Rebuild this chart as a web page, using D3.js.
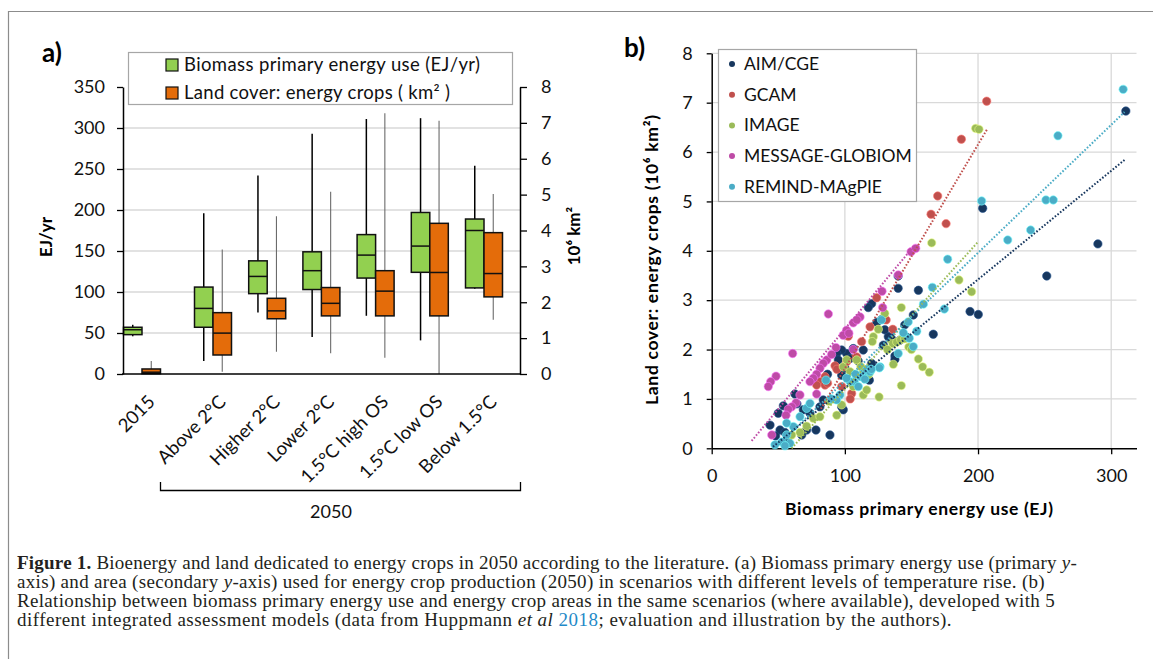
<!DOCTYPE html>
<html>
<head>
<meta charset="utf-8">
<script src="https://cdn.jsdelivr.net/npm/d3@7"></script>
<style>
  body { margin: 0; background: #fff; }
  svg { display: block; font-family: Lato, "Open Sans", sans-serif; }
</style>
</head>
<body>
<svg id="fig" width="1153" height="659"></svg>
<script>
// ---- data: panel a (box plots) ----
const scenarios = ["2015", "Above 2°C", "Higher 2°C", "Lower 2°C", "1.5°C high OS", "1.5°C low OS", "Below 1.5°C"];
// [min, q1, median, q3, max]  EJ/yr
const biomassStats = [
  [46, 48, 54, 57, 60],
  [16, 57, 80, 106, 196],
  [75, 98, 119, 138, 242],
  [45, 103, 126, 149, 293],
  [71, 117, 145, 170, 311],
  [41, 124, 156, 197, 312],
  [104, 105, 175, 189, 254]
];
// [min, q1, median, q3, max]  10^6 km2
const landStats = [
  [0, 0.01, 0.05, 0.14, 0.36],
  [0.06, 0.53, 1.14, 1.71, 3.47],
  [0.62, 1.54, 1.76, 2.11, 4.40],
  [0.58, 1.62, 1.97, 2.41, 5.08],
  [0.45, 1.62, 2.31, 2.88, 7.27],
  [0, 1.62, 2.83, 4.20, 7.06],
  [1.51, 2.15, 2.80, 3.94, 5.02]
];
const leftTicks = [0, 50, 100, 150, 200, 250, 300, 350];
const rightTicks = [0, 1, 2, 3, 4, 5, 6, 7, 8];

// ---- data: panel b (scatter) ----
const models = ["AIM/CGE", "GCAM", "IMAGE", "MESSAGE-GLOBIOM", "REMIND-MAgPIE"];
const modelColors = ["#17375E", "#C0504D", "#9BBB59", "#BE4BA6", "#4BACC6"];
const aimPts = [[311,6.83],[203.5,4.86],[290,4.14],[251.6,3.49],[155.2,3.2],[140,3.24],[140,3.49],[194,2.77],[200.2,2.71],
  [151.4,2.70],[166.4,2.31],[133.9,2.26],[128.9,2.09],[137.6,1.87],[137.6,1.80],[120.1,2.93],[117.6,2.85],[127.7,2.61],
  [132.6,2.26],[135.2,2.21],[141.4,2.19],[146.4,2.25],[113.8,1.99],[106.3,2.02],[101.3,1.92],[97.6,1.99],[93.9,1.92],
  [95.1,1.79],[97.6,1.48],[100.1,1.62],[116.4,1.59],[120.1,1.72],[118.4,1.38],[110,1.77],[103.9,1.82],[98.8,0.78],
  [97.6,0.84],[88.8,0.27],[78.3,0.37],[62.5,1.10],[53.8,0.86],[50,0.71],[43.8,0.47],[51.3,0.37],[71.3,0.37],[67.6,0.27],
  [68.8,0.78],[73.8,0.71],[83.8,0.98],[81.3,0.84],[48,0.25],[55,0.32],[57,0.2],[124,2.55],[130,2.4],[145,2.5],[87,1.5],[64,0.9]];
const gcamPts = [[206.5,7.03],[187.5,6.26],[169.7,5.11],[164.7,4.74],[176,4.55],[136,2.41],[123.9,3.05],[118.9,2.46],
  [112.6,2.16],[102.6,2.27],[92.6,1.67],[85.1,1.45],[81.3,1.35],[78.8,1.28],[85.1,1.28],[105.1,1.11],[97.6,1.25],
  [101.3,1.75],[108.9,1.85],[131,2.6],[87,1.32],[104,1.0],[94,1.6]];
const imagePts = [[198.2,6.48],[200.7,6.46],[165.2,4.16],[185.7,3.41],[195.2,3.17],[142.4,2.85],[130,2.73],[155.2,1.81],
  [158.4,1.65],[163.4,1.54],[136.4,1.70],[142.4,1.27],[125.7,1.04],[125.1,2.41],[121.4,2.26],[120.6,2.16],[136,2.12],
  [139,2.15],[142,2.2],[145,2.22],[148,2.05],[98.8,1.65],[101.4,1.79],[108.9,1.79],[97.6,0.88],[93.9,0.67],[113.8,1.08],
  [116.4,1.18],[106.3,1.25],[76.3,0.61],[81.3,0.64],[71.3,0.45],[66.3,0.32],[60.1,0.27],[112,1.65],[118,1.5],[104,1.55],
  [88,0.95],[132,2.0],[150,2.0]];
const messagePts = [[149.7,3.98],[153.2,4.05],[140.1,3.51],[127.9,3.18],[128.4,2.85],[87.6,2.72],[111.4,2.66],[106.3,2.54],
  [101.3,2.39],[98.8,2.29],[106.3,2.0],[93.3,2.04],[86.4,1.79],[83.8,1.72],[81.3,1.62],[78.8,1.5],[76.3,1.42],[73.8,1.35],
  [60.8,1.92],[48.3,1.46],[44.3,1.35],[42.5,1.25],[66.3,1.08],[63.3,0.92],[60.1,0.84],[57.5,0.79],[55.8,0.67],[45.1,0.27],
  [78.8,1.10],[103,2.33],[109,2.6],[90,1.9]];
const remindPts = [[309,7.27],[260,6.33],[202.7,5.01],[251,5.03],[256.5,5.03],[239.5,4.42],[222.3,4.22],[177.2,3.83],
  [165.7,3.26],[174.7,2.82],[159,2.92],[147.6,2.56],[154,2.37],[148.4,2.23],[151.4,2.06],[140.1,1.92],[143.9,2.34],
  [126.4,1.65],[127.5,2.6],[85.8,1.38],[107.1,1.35],[110.1,1.25],[113.8,1.52],[116.4,1.59],[96.3,1.08],[93.8,0.98],
  [103.9,1.35],[101.3,1.42],[118.9,1.55],[125.9,1.63],[71.3,0.81],[66.3,0.64],[61.3,0.44],[56.3,0.27],[52.6,0.13],
  [47.5,0.07],[58.8,0.1],[56.3,0.51],[73.8,0.91],[55,0.05],[112,1.45],[108,1.5],[115,1.4],[120,1.6],[90,1.0]];
const modelPts = [aimPts, gcamPts, imagePts, messagePts, remindPts];
// dotted linear trend lines: [x0, y0, x1, y1]
const trendLines = [[46,0.03,310,5.84],[82,0.8,207,6.47],[60,0,200,4.18],[30,0.15,152,4.1],[48,0.02,310,6.81]];
const bXTicks = [0, 100, 200, 300];
const bYTicks = [0, 1, 2, 3, 4, 5, 6, 7, 8];

const captionLines = [
  [["Figure 1.", "b"], [" Bioenergy and land dedicated to energy crops in 2050 according to the literature. (a) Biomass primary energy use (primary ", ""], ["y", "i"], ["-", ""]],
  [["axis) and area (secondary ", ""], ["y", "i"], ["-axis) used for energy crop production (2050) in scenarios with different levels of temperature rise. (b)", ""]],
  [["Relationship between biomass primary energy use and energy crop areas in the same scenarios (where available), developed with 5", ""]],
  [["different integrated assessment models (data from Huppmann ", ""], ["et al", "i"], [" ", ""], ["2018", "link"], ["; evaluation and illustration by the authors).", ""]]
];
const captionWidths = [1060, 1028, 1038, 935];

const svg = d3.select("#fig");
const green = "#92D050", orange = "#E46C0A", gridCol = "#D9D9D9";

// outer frame
svg.append("path").attr("d", "M8.5,659V11.5H1153").attr("fill", "none").attr("stroke", "#8c8c8c").attr("stroke-width", 1.2);

// ================= panel a =================
const ga = svg.append("g");
const yL = d3.scaleLinear().domain([0, 350]).range([374, 87]);
const yR = d3.scaleLinear().domain([0, 8]).range([374, 87]);
const x50 = d3.scalePoint().domain(scenarios.slice(1)).range([213, 484]);
const xa = c => c === "2015" ? x50(scenarios[1]) - 1.31 * x50.step() : x50(c);
const bw = 18.5;

ga.append("g").selectAll("line").data(leftTicks.filter(d => d > 0 && d < 350)).enter().append("line")
  .attr("x1", 123).attr("x2", 520).attr("y1", d => yL(d)).attr("y2", d => yL(d))
  .attr("stroke", gridCol).attr("stroke-width", 1.3);

// boxes
scenarios.forEach((c, i) => {
  const cx = xa(c);
  const sets = [
    { s: biomassStats[i], y: yL, fill: green, x: cx - bw, wc: "#000", ww: 1.5 },
    { s: landStats[i], y: yR, fill: orange, x: cx, wc: "#6b6b6b", ww: 1.1 }
  ];
  sets.forEach(o => {
    const wx = o.x + bw / 2;
    ga.append("line").attr("x1", wx).attr("x2", wx).attr("y1", o.y(o.s[0])).attr("y2", o.y(o.s[4]))
      .attr("stroke", o.wc).attr("stroke-width", o.ww);
    ga.append("rect").attr("x", o.x).attr("width", bw)
      .attr("y", o.y(o.s[3])).attr("height", Math.max(1, o.y(o.s[1]) - o.y(o.s[3])))
      .attr("fill", o.fill).attr("stroke", "#111").attr("stroke-width", 1.5);
    ga.append("line").attr("x1", o.x).attr("x2", o.x + bw).attr("y1", o.y(o.s[2])).attr("y2", o.y(o.s[2]))
      .attr("stroke", "#111").attr("stroke-width", 1.5);
  });
});

const axL = ga.append("g").attr("transform", "translate(123,0)")
  .call(d3.axisLeft(yL).tickValues(leftTicks).tickSize(6).tickSizeOuter(0).tickPadding(12));
const axR = ga.append("g").attr("transform", "translate(520,0)")
  .call(d3.axisRight(yR).tickValues(rightTicks).tickSize(7).tickSizeOuter(0).tickPadding(14));
[axL, axR].forEach(a => {
  a.select(".domain").attr("stroke", "#000").attr("stroke-width", 1.5);
  a.selectAll(".tick line").attr("stroke", "#000").attr("stroke-width", 1.3);
  a.selectAll("text").attr("font-family", "Lato").attr("font-size", 18).attr("fill", "#111");
});
ga.append("line").attr("x1", 122).attr("x2", 521).attr("y1", 374).attr("y2", 374).attr("stroke", "#000").attr("stroke-width", 1.5);

// category labels
ga.append("g").selectAll("text").data(scenarios).enter().append("text")
  .attr("transform", d => `translate(${xa(d) + 14},${403}) rotate(-45)`)
  .attr("text-anchor", "end").attr("font-size", 18.5).attr("fill", "#111").text(d => d);

// 2050 bracket
ga.append("path").attr("d", "M160.5,482V490.5H520.5V482").attr("fill", "none").attr("stroke", "#000").attr("stroke-width", 1.3);
ga.append("text").attr("x", 331).attr("y", 518).attr("text-anchor", "middle").attr("font-size", 18).attr("fill", "#111").text("2050");

// axis titles
ga.append("text").attr("transform", "translate(52,237) rotate(-90)").attr("text-anchor", "middle")
  .attr("font-weight", "bold").attr("font-size", 17).text("EJ/yr");
ga.append("text").attr("transform", "translate(580,236) rotate(-90)").attr("text-anchor", "middle")
  .attr("font-weight", "bold").attr("font-size", 17).text("10⁶ km²");
ga.append("text").attr("x", 42).attr("y", 62).attr("font-weight", "bold").attr("font-size", 26).text("a)");

// legend a
ga.append("rect").attr("x", 128.5).attr("y", 52.5).attr("width", 384).attr("height", 52)
  .attr("fill", "#fff").attr("stroke", "#a6a6a6").attr("stroke-width", 1.2);
const legA = [["Biomass primary energy use (EJ/yr)", green, 296], ["Land cover: energy crops ( km² )", orange, 266]];
legA.forEach((d, i) => {
  const y = 65 + i * 28;
  ga.append("rect").attr("x", 166).attr("y", y - 6).attr("width", 12).attr("height", 12)
    .attr("fill", d[1]).attr("stroke", "#111").attr("stroke-width", 1.2);
  ga.append("text").attr("x", 184).attr("y", y + 6).attr("font-size", 18.5).attr("fill", "#111")
    .attr("textLength", d[2]).attr("lengthAdjust", "spacing").text(d[0]);
});

// ================= panel b =================
const gb = svg.append("g");
const xB = d3.scaleLinear().domain([0, 319]).range([711.7, 1136.5]);
const yB = d3.scaleLinear().domain([0, 8]).range([448.3, 53.3]);

gb.append("g").selectAll("line").data(bYTicks.filter(d => d > 0)).enter().append("line")
  .attr("x1", xB(0)).attr("x2", xB(319)).attr("y1", d => yB(d)).attr("y2", d => yB(d))
  .attr("stroke", gridCol).attr("stroke-width", 1.3);
gb.append("g").selectAll("line").data(bXTicks.filter(d => d > 0)).enter().append("line")
  .attr("x1", d => xB(d)).attr("x2", d => xB(d)).attr("y1", yB(0)).attr("y2", yB(8))
  .attr("stroke", gridCol).attr("stroke-width", 1.3);

const axBX = gb.append("g").attr("transform", `translate(0,${yB(0)})`)
  .call(d3.axisBottom(xB).tickValues(bXTicks).tickSize(6).tickSizeOuter(0).tickPadding(15));
const axBY = gb.append("g").attr("transform", `translate(${xB(0)},0)`)
  .call(d3.axisLeft(yB).tickValues(bYTicks).tickSize(5).tickSizeOuter(0).tickPadding(14));
[axBX, axBY].forEach(a => {
  a.select(".domain").attr("stroke", "#000").attr("stroke-width", 1.5);
  a.selectAll(".tick line").attr("stroke", "#000").attr("stroke-width", 1.3);
  a.selectAll("text").attr("font-family", "Lato").attr("font-size", 18).attr("fill", "#111");
});

// scatter points
models.forEach((m, k) => {
  gb.append("g").selectAll("circle").data(modelPts[k]).enter().append("circle")
    .attr("cx", d => xB(d[0])).attr("cy", d => yB(d[1])).attr("r", 4.2)
    .attr("fill", modelColors[k])
    .attr("stroke", d3.color(modelColors[k]).brighter(1.2)).attr("stroke-opacity", 0.6).attr("stroke-width", 1);
});
// trend lines
models.forEach((m, k) => {
  const t = trendLines[k];
  gb.append("line").attr("x1", xB(t[0])).attr("y1", yB(t[1])).attr("x2", xB(t[2])).attr("y2", yB(t[3]))
    .attr("stroke", modelColors[k]).attr("stroke-width", 2).attr("stroke-dasharray", "1.6 1.8");
});

// legend b
gb.append("rect").attr("x", 718.5).attr("y", 49.5).attr("width", 198).attr("height", 152)
  .attr("fill", "#fff").attr("stroke", "#a6a6a6").attr("stroke-width", 1.2);
models.forEach((m, k) => {
  const y = 64 + k * 30.7;
  gb.append("circle").attr("cx", 732).attr("cy", y).attr("r", 3).attr("fill", modelColors[k]);
  gb.append("text").attr("x", 744).attr("y", y + 6).attr("font-size", 17.5).attr("fill", "#111").text(m);
});

gb.append("text").attr("x", 919).attr("y", 515).attr("text-anchor", "middle")
  .attr("font-weight", "bold").attr("font-size", 17.5)
  .attr("textLength", 268).attr("lengthAdjust", "spacing").text("Biomass primary energy use (EJ)");
gb.append("text").attr("transform", "translate(658,260) rotate(-90)").attr("text-anchor", "middle")
  .attr("font-weight", "bold").attr("font-size", 17.5)
  .attr("textLength", 290).attr("lengthAdjust", "spacing").text("Land cover: energy crops (10⁶ km²)");
gb.append("text").attr("x", 624).attr("y", 57).attr("font-weight", "bold").attr("font-size", 26).text("b)");

// ================= caption =================
const cap = svg.append("g").attr("font-family", "'Liberation Serif', 'DejaVu Serif', serif").attr("fill", "#231f20");
captionLines.forEach((line, i) => {
  const t = cap.append("text").attr("x", 17).attr("y", 569 + i * 19).attr("font-size", 19);
  line.forEach(p => {
    const s = t.append("tspan").text(p[0]);
    if (p[1] === "b") s.attr("font-weight", "bold");
    if (p[1] === "i") s.attr("font-style", "italic");
    if (p[1] === "link") s.attr("fill", "#1f8ac8");
  });
  const w = t.node().getComputedTextLength();
  const n = line.reduce((a, p) => a + p[0].length, 0);
  t.attr("letter-spacing", ((captionWidths[i] - w) / n).toFixed(3));
});
</script>
</body>
</html>
